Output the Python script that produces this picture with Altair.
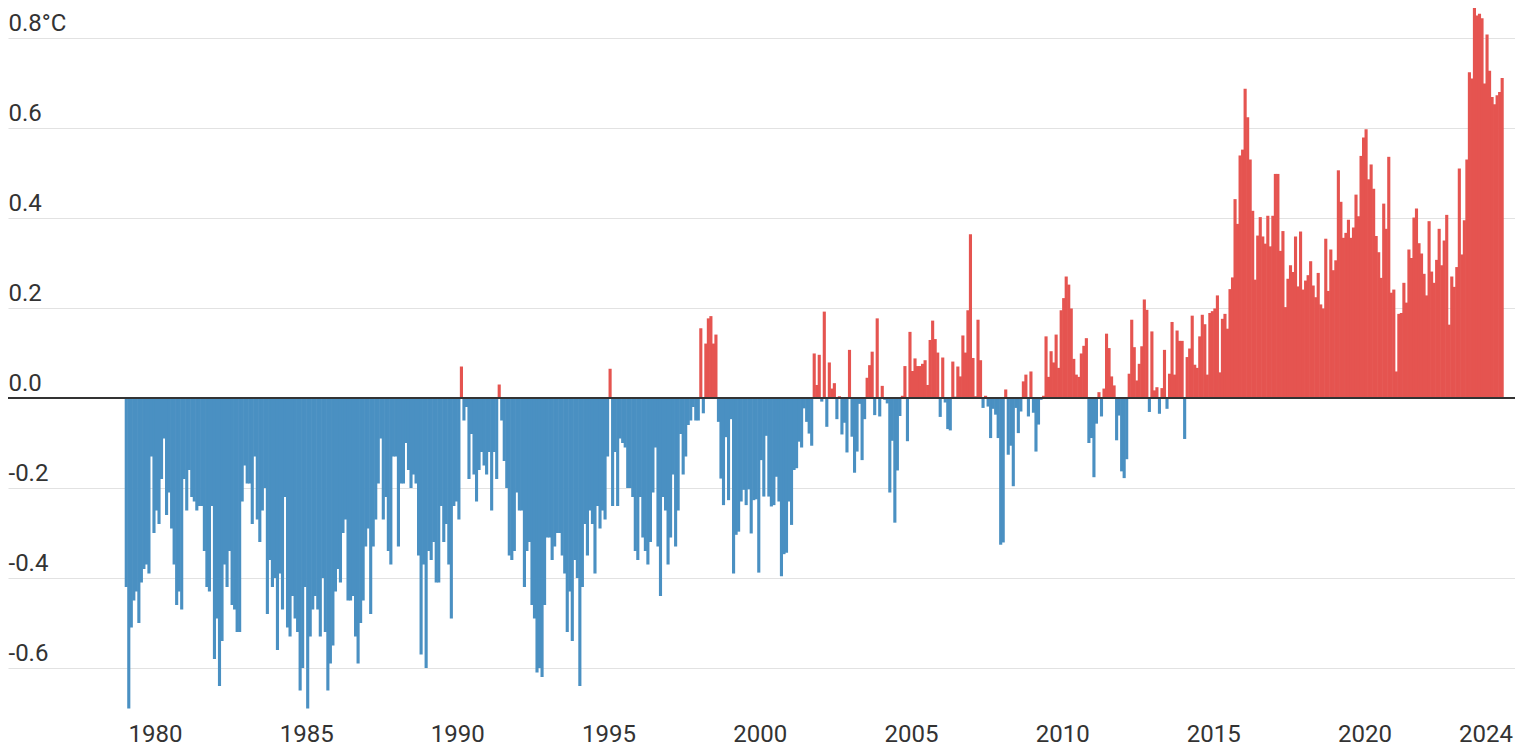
import altair as alt
import pandas as pd

START_YEAR = 1979  # first month: January 1979

# Monthly temperature anomalies (°C)
anom_1979_1989 = [
    -0.42, -0.69, -0.51, -0.45, -0.43, -0.50, -0.41, -0.38, -0.37, -0.39, -0.13, -0.30,
    -0.25, -0.28, -0.18, -0.09, -0.26, -0.21, -0.29, -0.37, -0.46, -0.43, -0.47, -0.18,
    -0.25, -0.16, -0.22, -0.23, -0.25, -0.24, -0.24, -0.34, -0.42, -0.43, -0.24, -0.58,
    -0.49, -0.64, -0.54, -0.37, -0.42, -0.34, -0.46, -0.47, -0.52, -0.52, -0.23, -0.15,
    -0.19, -0.19, -0.28, -0.13, -0.27, -0.32, -0.25, -0.20, -0.48, -0.36, -0.42, -0.40,
    -0.56, -0.39, -0.47, -0.22, -0.51, -0.53, -0.44, -0.49, -0.52, -0.65, -0.60, -0.42,
    -0.69, -0.53, -0.47, -0.44, -0.47, -0.53, -0.40, -0.52, -0.65, -0.59, -0.55, -0.43,
    -0.38, -0.41, -0.30, -0.27, -0.45, -0.45, -0.44, -0.53, -0.59, -0.50, -0.45, -0.33,
    -0.29, -0.48, -0.33, -0.27, -0.19, -0.09, -0.27, -0.22, -0.34, -0.37, -0.13, -0.13,
    -0.33, -0.19, -0.19, -0.10, -0.16, -0.20, -0.17, -0.19, -0.35, -0.57, -0.37, -0.60,
    -0.34, -0.36, -0.32, -0.41, -0.41, -0.24, -0.32, -0.28, -0.37, -0.49, -0.24, -0.23,
]
anom_1990_1999 = [
    -0.27, 0.07, -0.05, -0.02, -0.18, -0.08, -0.17, -0.23, -0.16, -0.12, -0.15, -0.17,
    -0.12, -0.25, -0.12, -0.18, 0.03, -0.05, -0.14, -0.20, -0.35, -0.36, -0.34, -0.21,
    -0.25, -0.25, -0.42, -0.34, -0.32, -0.46, -0.49, -0.61, -0.60, -0.62, -0.46, -0.31,
    -0.31, -0.36, -0.33, -0.30, -0.30, -0.35, -0.39, -0.52, -0.43, -0.54, -0.36, -0.40,
    -0.64, -0.42, -0.28, -0.35, -0.25, -0.28, -0.39, -0.24, -0.29, -0.25, -0.27, -0.13,
    0.065, -0.24, -0.12, -0.24, -0.09, -0.10, -0.11, -0.20, -0.20, -0.22, -0.34, -0.36,
    -0.22, -0.31, -0.34, -0.37, -0.32, -0.21, -0.11, -0.33, -0.44, -0.22, -0.25, -0.37,
    -0.31, -0.17, -0.33, -0.25, -0.08, -0.17, -0.13, -0.06, -0.05, -0.02, -0.05, -0.05,
    0.155, -0.034, 0.121, 0.177, 0.182, 0.121, 0.141, -0.053, -0.179, -0.238, -0.087, -0.227,
    -0.047, -0.39, -0.304, -0.297, -0.23, -0.204, -0.238, -0.203, -0.301, -0.227, -0.225, -0.388,
]
anom_2000_2009 = [
    -0.138, -0.219, -0.084, -0.219, -0.241, -0.238, -0.175, -0.23, -0.396, -0.347, -0.344, -0.23,
    -0.282, -0.16, -0.156, -0.097, -0.11, -0.023, -0.053, -0.079, -0.106, 0.099, 0.029, 0.096,
    -0.008, 0.192, -0.064, 0.079, 0.021, 0.033, -0.047, 0.004, -0.081, -0.055, -0.121, 0.107,
    -0.086, -0.166, -0.119, -0.013, -0.138, -0.047, 0.045, 0.073, 0.103, -0.038, 0.177, -0.041,
    0.027, -0.004, -0.012, -0.21, -0.095, -0.277, -0.161, -0.04, 0.005, 0.071, -0.096, 0.147,
    0.06, 0.088, 0.071, 0.071, 0.076, 0.084, 0.029, 0.129, 0.172, 0.131, 0.101, -0.042,
    0.09, -0.01, -0.069, -0.072, 0.081, 0.003, 0.07, 0.048, 0.139, 0.101, 0.195, 0.364,
    0.089, 0.004, 0.174, 0.084, -0.022, 0.005, -0.019, -0.089, -0.024, -0.037, -0.089, -0.326,
    -0.321, 0.019, -0.126, -0.106, -0.196, -0.022, -0.078, -0.03, 0.037, 0.052, -0.041, 0.059,
    -0.033, -0.119, -0.059, -0.004, 0.005, 0.137, 0.047, 0.104, 0.079, 0.141, 0.067, 0.195,
]
anom_2010_2019 = [
    0.222, 0.27, 0.252, 0.199, 0.087, 0.052, 0.047, 0.099, 0.116, 0.133, -0.1, -0.089,
    -0.176, -0.057, 0.013, -0.041, 0.021, 0.143, 0.111, 0.048, 0.028, -0.094, -0.039, -0.163,
    -0.178, -0.136, 0.054, 0.174, 0.113, 0.039, 0.076, 0.115, 0.219, 0.196, -0.031, 0.148,
    0.017, 0.024, -0.035, 0.022, 0.107, -0.024, 0.054, 0.169, 0.052, 0.15, 0.127, 0.127,
    -0.091, 0.091, 0.11, 0.183, 0.074, 0.067, 0.137, 0.185, 0.164, 0.052, 0.189, 0.193,
    0.199, 0.228, 0.057, 0.176, 0.187, 0.154, 0.242, 0.268, 0.442, 0.387, 0.539, 0.552,
    0.687, 0.624, 0.53, 0.416, 0.263, 0.361, 0.402, 0.359, 0.343, 0.405, 0.337, 0.405,
    0.498, 0.498, 0.327, 0.371, 0.202, 0.265, 0.295, 0.28, 0.359, 0.248, 0.37, 0.241,
    0.261, 0.273, 0.304, 0.25, 0.224, 0.278, 0.208, 0.199, 0.354, 0.238, 0.33, 0.284,
    0.306, 0.506, 0.436, 0.356, 0.367, 0.396, 0.356, 0.379, 0.452, 0.404, 0.538, 0.579,
]
anom_2020_2024 = [
    0.597, 0.486, 0.519, 0.465, 0.36, 0.324, 0.267, 0.432, 0.376, 0.536, 0.234, 0.241,
    0.059, 0.187, 0.189, 0.256, 0.212, 0.33, 0.311, 0.401, 0.421, 0.344, 0.321, 0.276,
    0.228, 0.393, 0.281, 0.256, 0.307, 0.376, 0.295, 0.35, 0.407, 0.163, 0.27, 0.247,
    0.291, 0.51, 0.319, 0.395, 0.53, 0.724, 0.71, 0.9, 0.85, 0.854, 0.844, 0.699,
    0.808, 0.727, 0.669, 0.653, 0.673, 0.68, 0.711,
]

x_tick_years = [1980, 1985, 1990, 1995, 2000, 2005, 2010, 2015, 2020, 2024]
y_tick_values = [-0.6, -0.4, -0.2, 0.0, 0.2, 0.4, 0.6, 0.8]

anomalies = anom_1979_1989 + anom_1990_1999 + anom_2000_2009 + anom_2010_2019 + anom_2020_2024

MONTH = 1.0 / 12.0
OVERLAP = 0.02  # small overlap (in years) so neighbouring bars do not show seams

df = pd.DataFrame({"anomaly": anomalies})
df["t0"] = START_YEAR + df.index * MONTH
df["t1"] = df["t0"] + MONTH + OVERLAP

RED = "#e55450"
BLUE = "#4a90c2"
TEXT = "#333333"
FONT = "Roboto"
FONT_SIZE = 24

PLOT_W = 1507
PLOT_H = 704
X_DOMAIN = [1975.141, 2024.976]
Y_TOP = 0.8667
Y_DOMAIN = [Y_TOP - PLOT_H / 450.0, Y_TOP]

x_scale = alt.Scale(domain=X_DOMAIN, nice=False, zero=False)
y_scale = alt.Scale(domain=Y_DOMAIN, nice=False, zero=False)

bars = alt.Chart(df).mark_bar(clip=True).encode(
    x=alt.X(
        "t0:Q",
        scale=x_scale,
        axis=alt.Axis(
            values=x_tick_years,
            format="d",
            title=None,
            grid=False,
            ticks=False,
            domain=False,
            labelFont=FONT,
            labelFontSize=FONT_SIZE,
            labelColor=TEXT,
            labelBaseline="alphabetic",
            labelPadding=29,
            labelFlush=False,
            labelOverlap=False,
        ),
    ),
    x2="t1:Q",
    y=alt.Y(
        "anomaly:Q",
        scale=y_scale,
        axis=alt.Axis(
            values=y_tick_values,
            title=None,
            grid=True,
            gridColor="#e2e2e2",
            gridWidth=1.2,
            ticks=False,
            domain=False,
            labelAlign="left",
            labelBaseline="alphabetic",
            labelPadding=0,
            labelOffset=-8,
            labelFont=FONT,
            labelFontSize=FONT_SIZE,
            labelColor=TEXT,
            labelFlush=False,
            labelOverlap=False,
            labelExpr="datum.value > 0.75 ? '0.8°C' : (datum.value < -0.001 ? '-' : '') + format(abs(datum.value), '.1f')",
        ),
    ),
    y2=alt.datum(0),
    color=alt.condition(alt.datum.anomaly > 0, alt.value(RED), alt.value(BLUE)),
)

zero_line = alt.Chart(pd.DataFrame({"zero": [0.0]})).mark_rule(
    color="#333333", strokeWidth=2
).encode(y=alt.Y("zero:Q", scale=y_scale))

chart = (
    alt.layer(bars, zero_line)
    .properties(
        width=PLOT_W,
        height=PLOT_H,
        autosize=alt.AutoSizeParams(type="none"),
        padding={"left": 0, "top": 0, "right": 0, "bottom": 36},
    )
    .configure_view(stroke=None)
)

chart.save("out.html", embed_options={"renderer": "svg", "actions": False})
